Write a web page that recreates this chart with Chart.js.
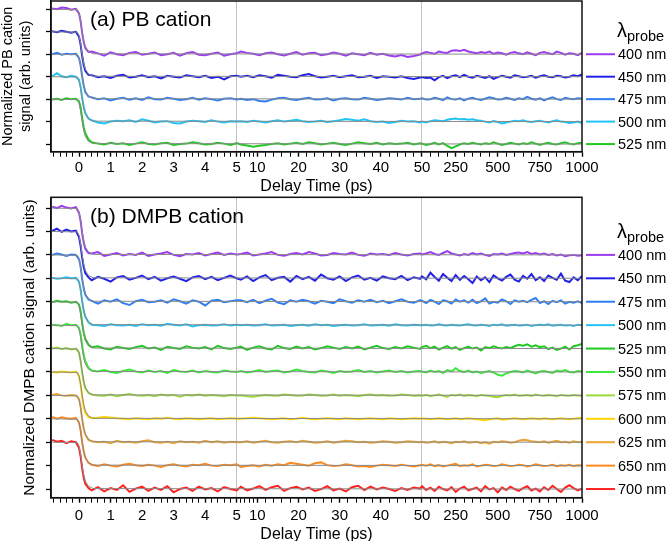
<!DOCTYPE html>
<html lang="en">
<head>
<meta charset="UTF-8">
<title>PB / DMPB cation transients</title>
<script src="https://cdn.jsdelivr.net/npm/chart.js"></script>
<style>
  body { margin: 0; background: #fff; }
  #wrap { position: relative; width: 666px; height: 541px; overflow: hidden; }
  .panel { position: absolute; left: 0; }
</style>
</head>
<body>
<div id="wrap">
  <canvas id="chartA" class="panel" style="top:0" width="666" height="198"></canvas>
  <canvas id="chartB" class="panel" style="top:190px" width="666" height="351"></canvas>
</div>

<script>
// delay times (ps) of the sampled points, shared by every trace
const delayPs = [-0.85, -0.7, -0.55, -0.4, -0.25, -0.1, 0, 0.05, 0.1, 0.15, 0.2, 0.3,
  0.4, 0.6, 0.8, 1, 1.2, 1.4, 1.6, 1.8, 2, 2.2, 2.4, 2.6, 2.8, 3, 3.2, 3.4, 3.6, 3.8, 4, 4.2, 4.4, 4.6, 4.8, 5,
  6, 7.5, 9, 10.5, 12, 13.5, 15, 16.5, 18, 19.5, 21, 22.5, 24, 25.5, 27, 28.5, 30, 31.5, 33, 34.5,
  36, 37.5, 39, 40.5, 42, 43.5, 45, 46.5, 48, 49.5,
  50, 75, 100, 125, 150, 175, 200, 225, 250, 275, 300, 325, 350, 375, 400, 425, 450, 475, 500, 525,
  550, 575, 600, 625, 650, 675, 700, 725, 750, 775, 800, 825, 850, 875, 900, 925, 950, 975, 1000];

// normalized signal (% of initial), panel (a) PB cation
const pb400 = [102, 100, 104, 103, 99, 101, 91, 74, 47, 27, 14, 5,
  6, 2, -3, 4, 0, -2, 3, 5, -1, 1, 4, -2, 0, 3, -3, 2, 5, -1, -2, 1, 4, -3, 0, 2,
  6, 3, 1, -2, 2, 4, 0, -3, 1, 5, -1, 2, 3, -2, 0, 4, 1, -3, 2, 0, -2, 3, -1, 1, -3, -5, -2, -6, -4, -1,
  2, 5, 3, 1, 6, 4, 3, 8, 9, 7, 10, 6, 4, 2, 5, 3, 6, 1, 4, 2, -1, 3, 5, 2, 0, 4, 1, -2, 3, 5, 2, 0, 6, 3, -1, 2, 1, -2, 3];
const pb450 = [101, 99, 102, 100, 98, 100, 89, 72, 46, 26, 13, 4,
  3, -1, 1, -3, 2, 4, -2, 0, 3, -1, 1, -4, 2, 0, -2, 3, 1, -1, 2, -3, 0, -6, 1, 2,
  0, 2, -1, 3, 1, -2, 4, 2, 0, -1, 3, 6, 1, -2, 0, 2, -1, 1, 3, -1, 0, 2, -3, 1, 0, -2, 1, -3, -5, -2,
  -1, -3, -2, -8, -1, 2, -3, 1, 3, -1, 4, 0, -2, 2, 0, -3, 1, -5, -1, 2, 0, -2, 3, 1, -1, 0, 2, -2, 1, 3, 0, -1, 2, 1, -2, 0, 3, 1, 5];
const pb475 = [100, 103, 99, 101, 100, 101, 92, 76, 50, 30, 16, 6,
  4, 0, 2, -3, 1, 3, -1, 2, -2, 4, 0, -1, 3, 1, -2, 0, 3, -1, 2, 0, -3, 1, 2, -1,
  1, -2, 0, -4, -5, -1, 2, 3, 0, -2, 1, 3, -1, 0, 2, -3, 1, 2, 0, -1, 3, 1, -2, 0, 2, 1, -1, 3, 0, 1,
  2, -1, 0, 3, 1, -2, 4, 0, -1, 2, -3, 1, 3, 0, -2, 1, 4, 2, -1, 0, 3, 1, -2, 2, 0, 5, 1, -1, 2, -3, 1, 4, 0, -2, 3, 1, 0, 2, 1];
const pb500 = [101, 108, 101, 99, 102, 100, 93, 78, 53, 33, 19, 7,
  3, -2, -4, 0, 2, 1, 3, -1, 5, 2, -2, 0, 1, -3, -4, 0, 2, 1, -1, 3, 0, -2, 1, 0,
  1, -1, 2, 0, -2, 1, 3, 0, 2, 4, 1, -1, 0, 2, -1, 1, 3, 6, 4, 2, 5, 1, -1, 0, -3, -1, 2, 0, 1, -2,
  0, -2, 1, 3, 2, 1, 4, 6, 7, 5, 6, 4, 5, 3, 2, 0, -2, 1, -1, -4, -2, 0, 2, 1, 3, 0, -1, 1, 2, 0, -2, 1, 3, 0, -1, -3, -2, 0, -4];
const pb525 = [99, 101, 98, 102, 100, 101, 95, 82, 58, 37, 24, 10,
  4, 1, -1, 3, 0, 2, -2, 1, 4, 0, -1, 2, 3, -2, 0, 1, 4, 2, -1, 0, 3, 1, -2, 2,
  -1, -3, -6, -4, -2, 0, 2, -1, 1, 3, 0, 4, 2, -1, 1, 3, 0, -2, 1, 4, 2, 0, 3, -1, 2, 0, 1, 3, -1, 2,
  1, -2, 0, 3, -1, 2, -4, -9, -5, -1, 2, 0, 3, 1, -1, 2, 0, 4, 1, -2, 0, 3, 1, -1, 2, 0, 4, 1, -2, 1, 3, 0, -1, 2, 4, 1, -1, 2, 3];

// normalized signal (% of initial), panel (b) DMPB cation
const dm400 = [103, 100, 105, 101, 99, 102, 90, 73, 46, 26, 13, 4,
  3, 6, -2, 1, 4, -1, 2, 0, 5, -2, 1, 3, 6, 0, -3, 2, 1, 4, -1, 2, 5, 0, 3, 1,
  2, 5, -1, 1, 3, 6, 0, -2, 2, 4, 1, 6, 3, -1, 0, 4, 2, 1, 5, 0, -2, 3, 1, 2, 0, 4, 1, -1, 2, 3,
  1, 3, 6, 2, 0, 4, 8, 3, 1, -1, 2, 0, 4, 1, 3, 0, -2, 2, 1, 3, 0, 2, 4, 5, 3, 6, 2, 4, 1, 3, 0, 2, -1, 1, -3, -1, 0, -2, -1];
const dm450 = [101, 106, 99, 104, 100, 102, 88, 70, 44, 24, 11, 2,
  -4, 3, -1, -7, 2, 5, -3, 1, 6, -2, 3, -5, 0, 4, -1, -6, 2, 5, -2, 3, -4, 1, 6, 0,
  -3, 4, -6, 2, 7, -4, 1, 3, -7, 5, -2, 3, -5, 8, 0, -3, 4, -6, 2, 6, -3, 1, -5, 4, 0, -2, 5, -4, 2, -1,
  4, -2, 12, 3, -5, 9, 1, -6, 7, -3, 5, -2, -10, 4, -4, 2, -8, 6, 0, -5, 3, 8, -3, -7, 5, -1, 9, -4, 2, -6, 6, 1, -3, 10, -5, -8, 2, -4, 5];
const dm475 = [100, 103, 101, 98, 101, 100, 91, 75, 48, 28, 15, 5,
  2, -4, 3, 0, 5, -3, -7, 1, 4, -1, 0, 3, -2, 5, 1, -4, 3, 0, -8, 2, 4, -1, 1, 3,
  3, -1, 4, -3, 2, 6, -2, -5, 3, 0, 4, 1, -4, 2, 0, -3, 5, 1, -2, 3, 0, 4, -1, 2, -3, 1, 5, 0, -2, 3,
  2, -3, 4, 0, -5, 3, 1, -4, 5, 0, 3, -2, 4, -3, 1, 7, -4, 0, -2, 5, 1, -5, 3, 0, 2, -1, 4, 8, -3, 1, -5, 2, -1, 3, -4, 0, -2, 1, -3];
const dm500 = [101, 99, 100, 102, 100, 101, 93, 77, 51, 31, 18, 6,
  1, 0, -2, 2, 0, -1, 1, -2, 2, 0, 1, -1, 3, 1, -1, 2, -3, 0, 1, -1, 0, 2, -1, 1,
  0, 1, -1, 0, 2, -1, 0, 1, -2, 0, 1, -1, 2, 0, 1, -2, 0, 1, -1, 0, 2, -1, 0, 1, -1, 2, 0, -1, 1, 0,
  0, 1, -1, 0, 2, 0, -1, 1, 0, -1, 1, 2, 0, -1, 1, 0, -2, 1, 0, 2, -1, 0, 1, -1, 0, 1, -2, 0, 1, 0, 2, -1, 0, 1, -1, 0, -2, 1, 0];
const dm525 = [99, 102, 100, 101, 98, 100, 94, 80, 55, 34, 21, 8,
  3, 5, 0, -2, 4, 1, -1, 3, 6, 0, 2, -3, 4, 1, -1, 5, 2, 0, 3, -2, 6, 1, -1, 2,
  4, -3, 2, 5, 0, -2, 6, 1, -1, 4, 0, 3, -2, 1, 5, 2, -1, 3, 0, 4, -2, 2, 6, 1, -1, 3, 0, 5, 2, -1,
  3, 6, 1, 4, -2, 2, 5, 0, 3, -3, 1, 4, 0, 2, -4, 3, 1, 5, 2, 0, 3, 1, 5, 8, 6, 9, 4, 7, 3, 5, -1, 2, -3, 0, 4, -2, 5, 7, 10];
const dm550 = [101, 100, 98, 103, 100, 101, 94, 81, 57, 36, 23, 9,
  3, 1, 4, 0, -2, 2, 5, 1, -1, 3, 0, 2, -2, 4, 1, 0, 3, -1, 2, 0, -1, 3, 1, 0,
  2, -1, 1, 4, 0, 2, 3, -1, 1, 5, 2, 0, -1, 3, 1, -2, 2, 0, 1, 4, 0, 2, -1, 1, 3, 0, 2, -1, 1, 2,
  1, -1, 3, 0, 2, -2, 4, 1, 8, 2, 0, 3, -1, 1, -2, 0, 2, -1, -6, -8, -3, 0, 2, 1, -1, 3, 0, -3, 1, 2, 0, -2, 3, 1, 4, 0, -1, 2, 1];
const dm575 = [100, 102, 99, 101, 98, 100, 91, 74, 48, 28, 15, 5,
  2, 0, -1, 2, -2, 1, 3, 0, -1, 1, -2, 2, 0, 1, -3, 1, 0, 2, -1, 1, 0, -2, 1, 0,
  0, -2, -3, -1, 1, 0, -1, 2, 1, -1, 0, 2, 1, -1, 0, 2, -1, 1, 0, -2, 1, 2, 0, 1, -1, 0, 2, 1, -1, 0,
  -1, 1, -2, 0, 2, -1, -3, 1, 0, 2, -1, 1, 0, -2, 1, 0, -1, -3, -4, -1, 1, 0, 2, -1, 0, 1, -1, 2, 0, -1, 1, 0, -2, 1, 0, -1, 1, 0, -1];
const dm600 = [100, 99, 101, 100, 99, 101, 91, 74, 47, 26, 13, 4,
  1, 2, 4, 3, 1, 0, -1, 1, 0, -1, 1, 0, 2, 0, -1, 1, 0, -1, 0, 1, -1, 0, 1, 0,
  0, 1, 2, 1, 0, -1, 0, 1, -1, 0, 2, 0, -1, 0, 1, 0, -1, 1, 0, -1, 0, 1, 0, -1, 1, 0, -1, 0, 1, 0,
  1, 0, -1, 0, 1, 0, -1, 0, 1, -1, 0, 1, 0, -1, -2, -3, -1, 0, 1, -2, -1, 0, 1, 0, -1, 0, 1, 0, -1, 1, 0, -1, 0, 1, 0, -1, 0, 1, 2];
const dm625 = [101, 103, 100, 99, 101, 100, 92, 76, 49, 29, 16, 5,
  2, 0, 1, -2, 3, 0, 1, -1, 2, 4, 0, -1, 1, -2, 2, 0, 1, -1, 3, 0, 2, -1, 1, 0,
  0, 2, -1, 1, 3, 0, -1, 1, 2, 0, 3, 1, -1, 0, 2, -1, 1, 3, 2, 0, 1, -1, 0, 2, 1, -1, 0, 2, 1, 0,
  1, -1, 0, 2, -1, 1, 0, -2, 1, 0, 2, -1, 0, 1, -2, 0, -3, 1, 0, 2, 1, -1, 0, 3, 5, 4, 2, 1, 0, 2, -1, 1, 3, 0, 1, -1, 2, 0, 1];
const dm650 = [104, 100, 103, 101, 100, 102, 92, 76, 50, 30, 17, 6,
  2, -1, 3, 0, -2, 2, 4, 1, -1, 2, 0, -3, 1, 3, 0, -2, 2, 1, 4, 0, -1, 2, 1, 3,
  -3, -1, 1, -2, 2, 0, 3, 1, 6, 4, 2, 0, 5, 7, 1, -1, 0, 3, 1, -2, -1, -3, 0, 2, 1, -1, 2, 0, -2, 1,
  2, 0, 3, -1, 1, -2, 0, 2, 4, -1, 1, 0, 3, -2, 0, 2, 1, -1, 0, 3, 1, -1, 0, 2, 1, -2, 0, 3, 1, -1, 0, 2, -1, 1, 0, 2, -1, 1, 0];
const dm700 = [105, 101, 103, 98, 102, 100, 88, 70, 44, 24, 11, 2,
  -3, 4, -5, 2, -2, 8, -6, 1, 5, -4, 3, -2, 6, -7, 0, 3, -4, 5, -1, 2, -5, 4, 0, -3,
  5, -3, 1, 6, -2, 4, 7, -4, 2, 5, -1, 3, -4, 0, 6, -3, 1, -5, 4, 7, -2, 5, -1, 3, 0, -4, 2, -2, 3, 1,
  6, -2, 3, -4, 5, 0, -3, 4, -6, 1, 5, -3, 0, 3, -5, 6, -1, 2, -7, 3, -2, 5, 0, -4, 2, 6, -3, 1, -5, 4, -2, 7, 0, -6, 3, 8, 2, -3, 1];

// fitted decay (gray curves), % of initial
const fitPs = [-0.85, -0.05, 0, 0.05, 0.1, 0.15, 0.2, 0.3, 0.45, 1000];
const fitPct = [100, 99, 92, 74, 50, 30, 17, 6, 1, 0];

const probesA = ['400 nm', '450 nm', '475 nm', '500 nm', '525 nm'];
const colorsA = ['#9b3cf0', '#2020e8', '#2f7ef2', '#22c2f5', '#22c822'];
const probesB = ['400 nm', '450 nm', '475 nm', '500 nm', '525 nm', '550 nm',
  '575 nm', '600 nm', '625 nm', '650 nm', '700 nm'];
const colorsB = ['#9b3cf0', '#2020e8', '#2f7ef2', '#22c2f5', '#22c822', '#3ae83a',
  '#9ada3a', '#ffd500', '#eca532', '#ff8a1e', '#ff2020'];

// labelled delay ticks
const majorPs = [0, 1, 2, 3, 4, 5, 10, 20, 30, 40, 50, 250, 500, 750, 1000];

// broken time axis: linear to 5 ps, then 5-50 ps, then 50-1000 ps
const SEG2 = 5.875, SEG3 = 5.073;
const X_MIN = -0.888, X_MAX = 5 + SEG2 + SEG3;
function toAxis(t) {
  if (t <= 5) return t;
  if (t <= 50) return 5 + (t - 5) * SEG2 / 45;
  return 5 + SEG2 + (t - 50) * SEG3 / 950;
}

const tickPs = [];
for (let i = -4; i <= 25; i++) tickPs.push(Math.round(i * 2) / 10);
for (let t = 6; t <= 10; t++) tickPs.push(t);
for (let t = 12; t <= 50; t += 2) tickPs.push(t);
for (let t = 100; t <= 1000; t += 50) tickPs.push(t);

const PCT = 2 / 100;   // 100 % = two tick steps on the offset axis
const FONT = "'Liberation Sans', Arial, Helvetica, sans-serif";
Chart.defaults.font.family = FONT;
Chart.defaults.color = '#000';

const decor = {
  id: 'decor',
  afterDraw(chart, args, o) {
    const {ctx, chartArea: a} = chart;
    const y = chart.scales.y;
    ctx.save();
    ctx.strokeStyle = '#111';
    ctx.lineWidth = 1.5;
    ctx.strokeRect(a.left, a.top, a.right - a.left, a.bottom - a.top);

    ctx.fillStyle = '#000';
    ctx.textBaseline = 'alphabetic';
    ctx.font = '21px ' + FONT;
    ctx.fillText(o.caption, 90, a.top + o.captionDy);

    const y0 = y.getPixelForValue(o.offsets[0]);
    ctx.font = '20px ' + FONT;
    ctx.fillText('λ', 617, y0 - 17);
    ctx.font = '14.5px ' + FONT;
    ctx.fillText('probe', 627, y0 - 13);

    ctx.textBaseline = 'middle';
    o.probes.forEach((name, i) => {
      const yy = y.getPixelForValue(o.offsets[i]);
      ctx.strokeStyle = o.colors[i];
      ctx.lineWidth = 2;
      ctx.beginPath();
      ctx.moveTo(586, yy);
      ctx.lineTo(615, yy);
      ctx.stroke();
      ctx.fillStyle = '#000';
      ctx.font = '14.5px ' + FONT;
      ctx.fillText(name, 618, yy + 1);
    });
    ctx.restore();
  }
};

function makePanel(id, p) {
  const datasets = [];
  p.series.forEach((vals, i) => {
    const off = p.offsets[i];
    // gray fit on top of its trace, thinner
    datasets.push({
      data: fitPs.map((t, k) => ({x: toAxis(t), y: off + fitPct[k] * PCT})),
      borderColor: '#8a8a8a', borderWidth: 1, order: 0
    });
    datasets.push({
      data: delayPs.map((t, k) => ({x: toAxis(t), y: off + vals[k] * PCT})),
      borderColor: p.colors[i], borderWidth: 2, order: 1
    });
  });

  return new Chart(document.getElementById(id), {
    type: 'line',
    data: {datasets},
    options: {
      responsive: false,
      animation: false,
      layout: {padding: {left: 0, right: 84, top: p.top, bottom: 0}},
      elements: {point: {radius: 0}, line: {tension: 0}},
      plugins: {
        legend: {display: false},
        tooltip: {enabled: false},
        decor: {caption: p.caption, captionDy: p.captionDy, probes: p.probes,
                colors: p.colors, offsets: p.offsets}
      },
      scales: {
        x: {
          type: 'linear', min: X_MIN, max: X_MAX,
          afterBuildTicks: s => { s.ticks = tickPs.map(t => ({value: toAxis(t)})); },
          afterFit: s => { s.height = p.xAxisH; },
          ticks: {
            autoSkip: false, maxRotation: 0, padding: p.tickPad, font: {size: 15},
            callback: (v, i) => majorPs.includes(tickPs[i]) ? String(tickPs[i]) : ''
          },
          grid: {
            color: c => (tickPs[c.index] === 5 || tickPs[c.index] === 50) ? '#c4c4c4' : 'rgba(0,0,0,0)',
            lineWidth: 1,
            tickColor: '#000',
            tickLength: 5,
            tickWidth: c => majorPs.includes(tickPs[c.index]) ? 1.4 : 1
          },
          border: {color: '#111', width: 1.5},
          title: {display: true, text: 'Delay Time (ps)', font: {size: 16},
                  padding: {top: 0, bottom: p.xTitlePad}}
        },
        y: {
          type: 'linear', min: p.yMin, max: p.yMax,
          afterBuildTicks: s => {
            s.ticks = [];
            for (let v = 0; v <= p.yTop; v++) s.ticks.push({value: v});
          },
          afterFit: s => { s.width = 51; },
          ticks: {display: false},
          grid: {drawOnChartArea: false, tickLength: 5, tickColor: '#000', tickWidth: 1.3},
          border: {color: '#111', width: 1.5},
          title: {display: true, text: p.yTitle, font: {size: p.yTitleSize, lineHeight: 1.3},
                  padding: {top: p.yTitlePad, bottom: 0}}
        }
      }
    },
    plugins: [decor]
  });
}

makePanel('chartA', {
  series: [pb400, pb450, pb475, pb500, pb525],
  offsets: [4, 3, 2, 1, 0],
  probes: probesA, colors: colorsA,
  caption: '(a) PB cation', captionDy: 25,
  top: 1, xAxisH: 46.3, xTitlePad: 2, tickPad: 2,
  yMin: -0.34, yMax: 6.37, yTop: 6,
  yTitle: ['Normalized PB cation', 'signal (arb. units)'], yTitleSize: 14.5, yTitlePad: -1.9
});

makePanel('chartB', {
  series: [dm400, dm450, dm475, dm500, dm525, dm550, dm575, dm600, dm625, dm650, dm700],
  offsets: [10, 9, 8, 7, 6, 5, 4, 3, 2, 1, 0],
  probes: probesB, colors: colorsB,
  caption: '(b) DMPB cation', captionDy: 26,
  top: 7.3, xAxisH: 43.3, xTitlePad: -3, tickPad: 4,
  yMin: -0.37, yMax: 12.46, yTop: 12,
  yTitle: 'Normalized DMPB cation signal (arb. units)', yTitleSize: 15.5, yTitlePad: 19.2
});
</script>
</body>
</html>
